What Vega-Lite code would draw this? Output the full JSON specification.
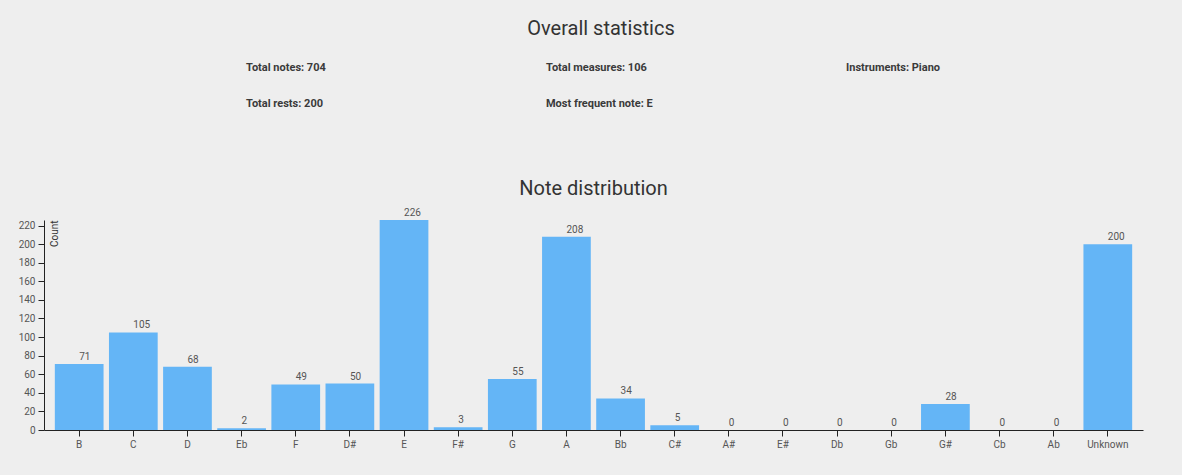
{
  "$schema": "https://vega.github.io/schema/vega-lite/v6.json",
  "background": "#eeeeee",
  "padding": {"left": 18, "top": 19, "right": 25, "bottom": 27},
  "spacing": 54,
  "config": {"font": "Roboto", "view": {"stroke": null}},
  "vconcat": [
    {
      "width": 1114,
      "height": 72,
      "title": {"text": "Overall statistics", "fontSize": 20, "fontWeight": "normal", "color": "#333333", "anchor": "middle", "frame": "group", "baseline": "alphabetic", "offset": -2},
      "data": {"values": [
        {"label": "Total notes:", "value": "704", "col": 0, "row": 0},
        {"label": "Total rests:", "value": "200", "col": 0, "row": 1},
        {"label": "Total measures:", "value": "106", "col": 1, "row": 0},
        {"label": "Most frequent note:", "value": "E", "col": 1, "row": 1},
        {"label": "Instruments:", "value": "Piano", "col": 2, "row": 0}
      ]},
      "transform": [{"calculate": "datum.label + ' ' + datum.value", "as": "full"}],
      "mark": {"type": "text", "align": "left", "baseline": "alphabetic", "fontSize": 11, "fontWeight": "bold", "color": "#3a3a3a"},
      "encoding": {
        "x": {"field": "col", "type": "quantitative", "scale": {"domain": [-0.6733, 3.04], "nice": false, "zero": false}, "axis": null},
        "y": {"field": "row", "type": "quantitative", "scale": {"domain": [-0.5, 1.5], "nice": false, "zero": false, "reverse": true}, "axis": null},
        "text": {"field": "full", "type": "nominal"}
      }
    },
    {
      "width": 1099,
      "height": 210,
      "title": {"text": "Note distribution", "fontSize": 20, "fontWeight": "normal", "color": "#333333", "anchor": "middle", "frame": "group", "baseline": "alphabetic", "offset": -7},
      "data": {"values": [
        {"note": "B", "count": 71},
        {"note": "C", "count": 105},
        {"note": "D", "count": 68},
        {"note": "Eb", "count": 2},
        {"note": "F", "count": 49},
        {"note": "D#", "count": 50},
        {"note": "E", "count": 226},
        {"note": "F#", "count": 3},
        {"note": "G", "count": 55},
        {"note": "A", "count": 208},
        {"note": "Bb", "count": 34},
        {"note": "C#", "count": 5},
        {"note": "A#", "count": 0},
        {"note": "E#", "count": 0},
        {"note": "Db", "count": 0},
        {"note": "Gb", "count": 0},
        {"note": "G#", "count": 28},
        {"note": "Cb", "count": 0},
        {"note": "Ab", "count": 0},
        {"note": "Unknown", "count": 200}
      ]},
      "encoding": {
        "x": {
          "field": "note", "type": "nominal", "sort": null,
          "scale": {"paddingInner": 0.1, "paddingOuter": 0.2},
          "axis": {"title": null, "labelAngle": 0, "tickSize": 6, "labelPadding": 3, "domainColor": "#222222", "tickColor": "#222222", "labelColor": "#555555", "labelFontSize": 10, "zindex": 1}
        },
        "y": {
          "field": "count", "type": "quantitative",
          "scale": {"domain": [0, 226], "nice": false},
          "axis": {"values": [0, 20, 40, 60, 80, 100, 120, 140, 160, 180, 200, 220], "grid": false, "tickSize": 6, "labelPadding": 3, "domainColor": "#222222", "tickColor": "#222222", "labelColor": "#555555", "labelFontSize": 10, "zindex": 1,
            "title": "Count", "titleAngle": 270, "titleX": 13, "titleY": 0, "titleAlign": "right", "titleBaseline": "alphabetic", "titleFontSize": 10, "titleFontWeight": "normal", "titleColor": "#333333"}
        }
      },
      "layer": [
        {"mark": {"type": "bar", "color": "#64b5f6"}},
        {
          "mark": {"type": "text", "align": "left", "baseline": "alphabetic", "dy": -4, "fontSize": 10, "color": "#555555"},
          "encoding": {"text": {"field": "count", "type": "quantitative"}}
        }
      ]
    }
  ]
}
